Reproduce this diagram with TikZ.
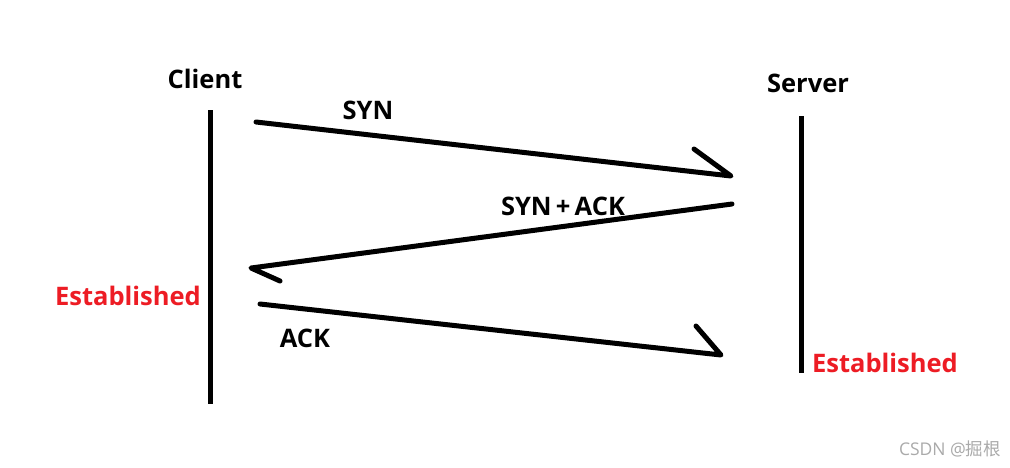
\documentclass[tikz,border=0pt]{standalone}
\usepackage{fontspec}
\setmainfont{Open Sans}
\newfontfamily\cjkfont{Noto Sans CJK SC}
\begin{document}
\begin{tikzpicture}[x=1pt,y=-1pt,
  lbl/.style={font=\fontsize{25.5}{30}\selectfont\bfseries, inner sep=0pt, anchor=base},
  redlbl/.style={lbl, text={rgb,255:red,237;green,28;blue,36}},
  stroke/.style={line width=5pt, line cap=round, line join=round},
  wm/.style={font=\fontsize{17.5}{20}\selectfont, text={rgb,255:red,170;green,170;blue,170}, inner sep=0pt, anchor=base}]
\useasboundingbox[fill=white] (0,0) rectangle (1010,467);
% lifelines
\coordinate (ctop) at (210,110);
\coordinate (cbot) at (210,404);
\coordinate (stop) at (801,116);
\coordinate (sbot) at (801,373);
\draw[stroke, line cap=butt] (ctop) -- (cbot);
\draw[stroke, line cap=butt] (stop) -- (sbot);
% labels
\node[lbl] (client) at (205,88) {Client};
\node[lbl] (server) at (808,92) {Server};
% SYN
\coordinate (syn1) at (256,122);
\coordinate (syn2) at (731,176);
\coordinate (synb) at (694,149);
\draw[stroke] (syn1) -- (syn2) -- (synb);
\node[lbl] (syn) at (368,119) {SYN};
% SYN+ACK
\coordinate (sa1) at (732,204);
\coordinate (sa2) at (251,268);
\coordinate (sab) at (280,281);
\draw[stroke] (sa1) -- (sa2) -- (sab);
\node[lbl] (synack) at (563,215) {SYN\,+\,ACK};
% ACK
\coordinate (ack1) at (260,304);
\coordinate (ack2) at (721,355);
\coordinate (ackb) at (696,326);
\draw[stroke] (ack1) -- (ack2) -- (ackb);
\node[lbl] (ack) at (305,347) {ACK};
% Established
\node[redlbl] (estc) at (128,305) {Established};
\node[redlbl] (ests) at (885,372) {Established};
% watermark
\node[wm] (wmark) at (950,455) {CSDN @{\cjkfont 掘根}};
\end{tikzpicture}
\end{document}
